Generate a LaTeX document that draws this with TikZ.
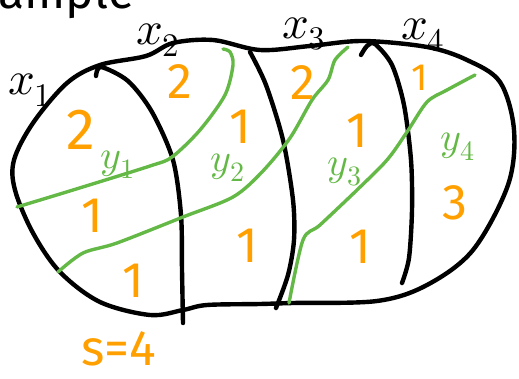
\documentclass[tikz,border=0pt]{standalone}
\usepackage{fontspec}
\usepackage{unicode-math}
\setmainfont{Fira Sans}
\setmathfont{Latin Modern Math}
\usepackage{xcolor}
\usepackage{tikz}
\definecolor{sketchorange}{RGB}{255,160,0}
\definecolor{sketchgreen}{RGB}{100,185,70}

\begin{document}
\begin{tikzpicture}[
    x=1pt, y=-1pt,
    pen/.style={line width=4.4pt, line cap=round, line join=round},
    cut/.style={pen, draw=sketchgreen, line width=3.4pt},
    weight/.style={text=sketchorange, font=\fontsize{50}{50}\selectfont, inner sep=0pt},
    bigweight/.style={weight, font=\fontsize{58}{58}\selectfont},
    smallweight/.style={weight, font=\fontsize{38}{38}\selectfont},
    varx/.style={font=\fontsize{47}{47}\selectfont, inner sep=0pt},
    vary/.style={text=sketchgreen, font=\fontsize{40}{40}\selectfont, inner sep=0pt},
]
    \useasboundingbox (0,0) rectangle (519,379);

    % heading, cut off at the top
    \node[anchor=base west, font=\fontsize{48}{48}\selectfont, inner sep=0pt] (title) at (-50,9) {Example};

    % the region
    \draw[pen] plot[smooth cycle, tension=0.55] coordinates {
        (33,123) (67,83) (100,65) (146,56) (173,43) (213,40) (260,50) (310,46)
        (363,41) (427,47) (467,60) (500,82) (514,130) (508,185) (473,250)
        (427,285) (377,301) (293,303) (260,304) (207,305) (183,310) (150,315)
        (100,302) (60,272) (33,233) (15,190) (14,160)};

    % the x boundaries
    \draw[pen] plot[smooth] coordinates {(96,76) (101,67) (128,81) (152,112) (173,160) (181,215) (182,270) (183,323)};
    \draw[pen] plot[smooth] coordinates {(250,52) (266,85) (283,140) (293,200) (294,240) (288,275) (276,308)};
    \draw[pen] plot[smooth] coordinates {(361,55) (367,46) (375,44) (392,65) (404,105) (411,160) (412,210) (409,258) (402,283)};

    % the y cuts
    \draw[cut] plot[smooth] coordinates {(17,207) (73,190) (150,166) (172,157) (200,130) (225,95) (233,65) (230,52) (223,49)};
    \draw[cut] plot[smooth] coordinates {(58,272) (83,253) (117,243) (183,217) (233,197) (262,172) (290,138) (312,100) (328,80) (335,60) (348,47)};
    \draw[cut] plot[smooth] coordinates {(289,303) (303,240) (320,225) (357,190) (387,160) (407,132) (427,102) (447,90) (475,75)};

    % labels
    \node[varx] (x1) at (30,90) {$x_1$};
    \node[varx] (x2) at (158,40) {$x_2$};
    \node[varx] (x3) at (304,34) {$x_3$};
    \node[varx] (x4) at (423,35) {$x_4$};

    \node[vary] (y1) at (118,165) {$y_1$};
    \node[vary] (y2) at (228,168) {$y_2$};
    \node[vary] (y3) at (345,172) {$y_3$};
    \node[vary] (y4) at (458,147) {$y_4$};

    % weights
    \node[bigweight] (w11) at (81,130) {2};
    \node[weight] (w12) at (92,216) {1};
    \node[weight] (w13) at (133,281) {1};
    \node[weight] (w21) at (180,82) {2};
    \node[weight] (w22) at (240,127) {1};
    \node[weight] (w23) at (247,246) {1};
    \node[weight] (w31) at (303,83) {2};
    \node[weight] (w32) at (357,131) {1};
    \node[weight] (w33) at (360,247) {1};
    \node[smallweight] (w41) at (420,78) {1};
    \node[weight] (w42) at (455,203) {3};

    \node[weight] (total) at (119,349) {s=4};
\end{tikzpicture}
\end{document}
